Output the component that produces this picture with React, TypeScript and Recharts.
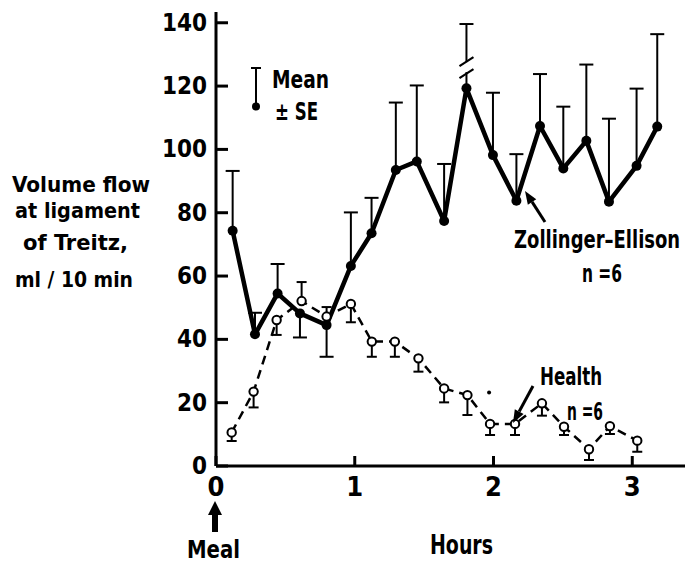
import React from "react";
import {
  ComposedChart,
  Line,
  Scatter,
  ErrorBar,
  XAxis,
  YAxis,
} from "recharts";

// Zollinger-Ellison (n=6): hours after meal, mean, +SE, -SE
const zeHours = [0.12, 0.281, 0.444, 0.605, 0.797, 0.972, 1.121, 1.296, 1.447, 1.644, 1.805, 1.996, 2.165, 2.335, 2.503, 2.669, 2.832, 3.031, 3.18];
const zeMean = [74.3, 41.6, 54.5, 48.2, 44.5, 63.2, 73.5, 93.5, 96.2, 77.4, 119.3, 98.2, 83.8, 107.4, 94.0, 102.7, 83.5, 94.8, 107.2];
const zeSeUp = [18.9, 6.8, 9.3, 0, 0, 16.9, 11.2, 21.3, 24, 18, 20.3, 19.7, 14.7, 16.4, 19.5, 24.1, 26.2, 24.4, 29.2];
const zeSeDown = [0, 0, 0, 7.6, 10, 0, 0, 0, 0, 0, 0, 0, 0, 0, 0, 0, 0, 0, 0];

// Health (n=6)
const hHours = [0.113, 0.271, 0.437, 0.617, 0.797, 0.972, 1.123, 1.289, 1.459, 1.644, 1.812, 1.975, 2.155, 2.349, 2.508, 2.688, 2.839, 3.036];
const hMean = [10.6, 23.5, 46.1, 52.1, 47.2, 51.2, 39.3, 39.3, 34.0, 24.5, 22.4, 13.3, 13.3, 19.8, 12.4, 5.3, 12.6, 8.0];
const hSeUp = [0, 0, 0, 6, 3, 0, 0, 0, 0, 0, 0, 0, 0, 0, 0, 0, 0, 0];
const hSeDown = [2.7, 5, 4.7, 0, 0, 5.8, 4.8, 4.8, 4.2, 4.4, 6.3, 3.5, 3.5, 3.9, 2.6, 3.4, 2.5, 3.5];

// axis break on the tallest ZE bar, and a stray print dot
const breakMark = [{ t: 1.805, v: 126 }];
const strayDot = [{ t: 1.968, v: 23.2 }];

const xTicks = [0, 1, 2, 3];
const yTicks = [0, 20, 40, 60, 80, 100, 120, 140];

const FONT =
  "'Liberation Sans Narrow', 'Arial Narrow', 'DejaVu Sans Condensed', 'Liberation Sans', sans-serif";

const zeData = zeHours.map((t, i) => ({
  t,
  v: zeMean[i],
  err: [zeSeDown[i], zeSeUp[i]],
}));
const hData = hHours.map((t, i) => ({
  t,
  v: hMean[i],
  err: [hSeDown[i], hSeUp[i]],
}));

const capsOf = (hours: number[], mean: number[], up: number[], down: number[]) => {
  const out: { t: number; v: number }[] = [];
  hours.forEach((t, i) => {
    if (up[i] > 0) out.push({ t, v: mean[i] + up[i] });
    if (down[i] > 0) out.push({ t, v: mean[i] - down[i] });
  });
  return out;
};
const zeCaps = capsOf(zeHours, zeMean, zeSeUp, zeSeDown);
const hCaps = capsOf(hHours, hMean, hSeUp, hSeDown);

const YTick = (p: any) => (
  <text
    x={p.x}
    y={p.y}
    dy={8}
    textAnchor="end"
    fontFamily={FONT}
    fontWeight={700}
    fontSize={24}
    fill="#000"
  >
    {p.payload.value}
  </text>
);

const XTick = (p: any) => (
  <text
    x={p.x}
    y={p.y}
    dy={20}
    textAnchor="middle"
    fontFamily={FONT}
    fontWeight={700}
    fontSize={27}
    fill="#000"
  >
    {p.payload.value}
  </text>
);

const Arrow = ({ from, to }: { from: [number, number]; to: [number, number] }) => {
  const dx = to[0] - from[0];
  const dy = to[1] - from[1];
  const len = Math.hypot(dx, dy);
  const ux = dx / len;
  const uy = dy / len;
  const bx = to[0] - ux * 13;
  const by = to[1] - uy * 13;
  const px = -uy * 5;
  const py = ux * 5;
  return (
    <g>
      <line x1={from[0]} y1={from[1]} x2={bx} y2={by} stroke="#000" strokeWidth={3} />
      <polygon
        points={`${to[0]},${to[1]} ${bx + px},${by + py} ${bx - px},${by - py}`}
        fill="#000"
      />
    </g>
  );
};

const txt = {
  fontFamily: FONT,
  fontWeight: 700,
  fill: "#000",
} as const;

export default function App() {
  return (
    <div style={{ position: "absolute", left: 0, top: 0, width: 685, height: 563, background: "#fff" }}>
      <ComposedChart width={685} height={563} margin={{ top: 12, right: 0, bottom: 0, left: 0 }}>
        <XAxis
          dataKey="t"
          type="number"
          domain={[0, 3.38]}
          ticks={xTicks}
          allowDataOverflow
          height={97}
          tickSize={-10}
          tickMargin={20}
          axisLine={{ stroke: "#000", strokeWidth: 3 }}
          tickLine={{ stroke: "#000", strokeWidth: 3 }}
          tick={<XTick />}
        />
        <YAxis
          type="number"
          domain={[0, 143.4]}
          ticks={yTicks}
          allowDataOverflow
          width={216}
          tickSize={-12}
          tickMargin={21}
          axisLine={{ stroke: "#000", strokeWidth: 3 }}
          tickLine={{ stroke: "#000", strokeWidth: 3 }}
          tick={<YTick />}
        />
        <Line
          data={hData}
          dataKey="v"
          type="linear"
          stroke="#000"
          strokeWidth={2.5}
          strokeDasharray="9 6"
          dot={false}
          isAnimationActive={false}
        >
          <ErrorBar dataKey="err" direction="y" width={0} stroke="#000" strokeWidth={2} isAnimationActive={false} />
        </Line>
        <Line
          data={zeData}
          dataKey="v"
          type="linear"
          stroke="#000"
          strokeWidth={4.5}
          strokeLinejoin="round"
          dot={false}
          isAnimationActive={false}
        >
          <ErrorBar dataKey="err" direction="y" width={0} stroke="#000" strokeWidth={2} isAnimationActive={false} />
        </Line>
        <Scatter
          data={zeCaps}
          dataKey="v"
          isAnimationActive={false}
          shape={(p: any) => (
            <line x1={p.cx - 7} x2={p.cx + 7} y1={p.cy} y2={p.cy} stroke="#000" strokeWidth={2} />
          )}
        />
        <Scatter
          data={hCaps}
          dataKey="v"
          isAnimationActive={false}
          shape={(p: any) => (
            <line x1={p.cx - 5} x2={p.cx + 5} y1={p.cy} y2={p.cy} stroke="#000" strokeWidth={2} />
          )}
        />
        <Scatter
          data={breakMark}
          dataKey="v"
          isAnimationActive={false}
          shape={(p: any) => (
            <g>
              <rect x={p.cx - 3} y={p.cy - 5} width={6} height={10} fill="#fff" />
              <line x1={p.cx - 7} y1={p.cy - 1} x2={p.cx + 7} y2={p.cy - 10} stroke="#000" strokeWidth={2.2} />
              <line x1={p.cx - 7} y1={p.cy + 11} x2={p.cx + 7} y2={p.cy + 2} stroke="#000" strokeWidth={2.2} />
            </g>
          )}
        />
        <Scatter
          data={hData}
          dataKey="v"
          isAnimationActive={false}
          shape={(p: any) => (
            <circle cx={p.cx} cy={p.cy} r={4.2} fill="#fff" stroke="#000" strokeWidth={2} />
          )}
        />
        <Scatter
          data={zeData}
          dataKey="v"
          isAnimationActive={false}
          shape={(p: any) => <circle cx={p.cx} cy={p.cy} r={5} fill="#000" />}
        />
        <Scatter
          data={strayDot}
          dataKey="v"
          isAnimationActive={false}
          shape={(p: any) => <circle cx={p.cx} cy={p.cy} r={2} fill="#000" />}
        />
      </ComposedChart>

      <svg
        width={685}
        height={563}
        style={{ position: "absolute", left: 0, top: 0, pointerEvents: "none" }}
      >
        {/* y axis title */}
        <text {...txt} fontSize={21} x={12} y={192} textLength={138} lengthAdjust="spacingAndGlyphs">Volume flow</text>
        <text {...txt} fontSize={21} x={15} y={218} textLength={125} lengthAdjust="spacingAndGlyphs">at ligament</text>
        <text {...txt} fontSize={21} x={23} y={250} textLength={105} lengthAdjust="spacingAndGlyphs">of Treitz,</text>
        <text {...txt} fontSize={21} x={15} y={287} textLength={118} lengthAdjust="spacingAndGlyphs">ml / 10 min</text>

        {/* legend */}
        <line x1={256} y1={68} x2={256} y2={106} stroke="#000" strokeWidth={2} />
        <line x1={251} y1={68} x2={261} y2={68} stroke="#000" strokeWidth={2} />
        <circle cx={256} cy={106.5} r={4} fill="#000" />
        <text {...txt} fontSize={25} x={272} y={88} textLength={57} lengthAdjust="spacingAndGlyphs">Mean</text>
        <text {...txt} fontSize={25} x={275} y={120} textLength={43} lengthAdjust="spacingAndGlyphs">± SE</text>

        {/* series labels */}
        <Arrow from={[545, 222]} to={[525, 191]} />
        <g transform="translate(514,248) scale(0.78,1)">
          <text {...txt} fontSize={24} x={0} y={0} textLength={213} lengthAdjust="spacingAndGlyphs">Zollinger–Ellison</text>
        </g>
        <text {...txt} fontSize={25} x={582} y={282} textLength={40} lengthAdjust="spacingAndGlyphs">n =6</text>

        <Arrow from={[533, 386]} to={[513, 423]} />
        <text {...txt} fontSize={24} x={540} y={385} textLength={62} lengthAdjust="spacingAndGlyphs">Health</text>
        <text {...txt} fontSize={24} x={567} y={420} textLength={36} lengthAdjust="spacingAndGlyphs">n =6</text>

        {/* x axis title and meal marker */}
        <text {...txt} fontSize={27} x={430} y={554} textLength={63} lengthAdjust="spacingAndGlyphs">Hours</text>
        <polygon points="215,501 222,515 208,515" fill="#000" />
        <rect x={212} y={514} width={6} height={18} fill="#000" />
        <text {...txt} fontSize={25} x={187} y={558} textLength={53} lengthAdjust="spacingAndGlyphs">Meal</text>
      </svg>
    </div>
  );
}
